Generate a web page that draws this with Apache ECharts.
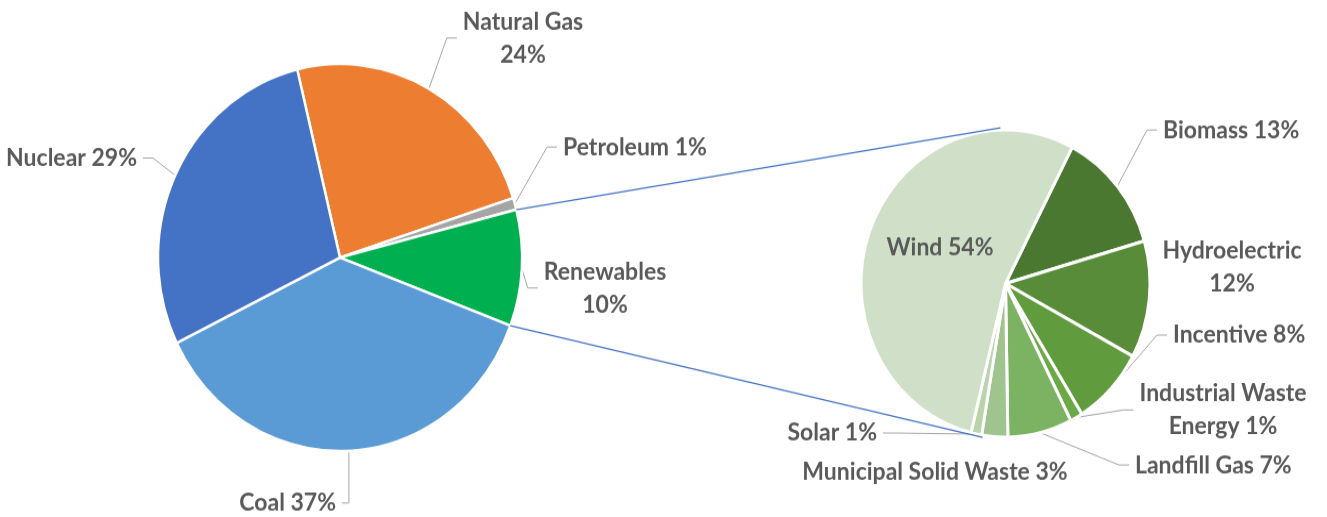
<!DOCTYPE html>
<html>
<head>
<meta charset="utf-8">
<script src="https://cdn.jsdelivr.net/npm/echarts@6/dist/echarts.min.js"></script>
<style>
html, body { margin: 0; padding: 0; background: #ffffff; overflow: hidden; }
#wrap { width: 1327px; height: 517px; overflow: hidden; }
#chart { width: 1327px; height: 486px; transform: scaleY(1.0638); transform-origin: 0 0; }
</style>
</head>
<body>
<div id="wrap"><div id="chart"></div></div>
<script>
// ---- data ----
const mainCategories = ['Natural Gas', 'Petroleum', 'Renewables', 'Coal', 'Nuclear'];
const mainValues = [23.8, 1.0, 9.7, 37.0, 28.5];
const mainColors = ['#ED7D31', '#A5A5A5', '#00B050', '#5B9BD5', '#4472C4'];
const expandedCategory = 'Renewables';

const subCategories = ['Biomass', 'Hydroelectric', 'Incentive', 'Industrial Waste Energy', 'Landfill Gas', 'Municipal Solid Waste', 'Solar', 'Wind'];
const subValues = [12.9, 12.3, 8.3, 1.4, 7.2, 2.9, 1.2, 53.8];
const subColors = ['#4B7830', '#588C38', '#609C3E', '#6BA846', '#7CB363', '#A0C48E', '#B9D3AA', '#D0E0C8'];

// ---- layout / style ----
const FONT = 'Lato';
const TEXT_COLOR = '#595959';
const FONT_SIZE = 23;
const LINE_H = 31;
const PAD = 6;
const mainPie = { cx: 340, cy: 242.1, r: 182, start: 103.6 };
const subPie = { cx: 1005.5, cy: 266.5, r: 144.5, start: 62.5 };
// words after which a label wraps
const breakAfterWord = { 'Natural Gas': 2, 'Renewables': 1, 'Hydroelectric': 1, 'Industrial Waste Energy': 2 };
// label anchors [x, y, align]
const labelPos = {
  'Natural Gas': [523, 35.7, 'center'],
  'Petroleum': [563, 138.2, 'left'],
  'Renewables': [605, 270.7, 'center'],
  'Coal': [336, 472.8, 'right'],
  'Nuclear': [137, 148.5, 'right'],
  'Biomass': [1163, 122.2, 'left'],
  'Hydroelectric': [1232, 251, 'center'],
  'Incentive': [1173, 315, 'left'],
  'Industrial Waste Energy': [1223, 385.4, 'center'],
  'Landfill Gas': [1135, 437.1, 'left'],
  'Municipal Solid Waste': [935, 443.7, 'center'],
  'Solar': [877, 407, 'right'],
  'Wind': [940, 232.2, 'center']
};
const noLeader = ['Hydroelectric', 'Municipal Solid Waste', 'Wind'];

function labelText(name, value) {
  const words = (name + ' ' + Math.round(value) + '%').split(' ');
  const b = breakAfterWord[name];
  if (!b) return words.join(' ');
  return words.slice(0, b).join(' ') + '\n' + words.slice(b).join(' ');
}

function makeData(cats, vals, cols) {
  return cats.map((c, i) => ({
    name: c,
    value: vals[i],
    itemStyle: { color: cols[i] },
    labelLine: { show: noLeader.indexOf(c) < 0 }
  }));
}

const seriesCats = [mainCategories, subCategories];

function layoutFn(params) {
  const name = seriesCats[params.seriesIndex][params.dataIndex];
  const p = labelPos[name];
  if (!p) return {};
  let x = p[0];
  if (p[2] === 'left') x -= PAD;
  if (p[2] === 'right') x += PAD;
  return { x: x, y: p[1], align: p[2], verticalAlign: 'middle' };
}

const labelStyle = {
  show: true,
  position: 'outside',
  color: TEXT_COLOR,
  fontFamily: FONT,
  fontWeight: 'bold',
  fontSize: FONT_SIZE,
  lineHeight: LINE_H,
  padding: [0, PAD],
  formatter: p => labelText(p.name, p.value)
};
const lineStyle = { show: true, length: 10, length2: 10, lineStyle: { color: '#A6A6A6', width: 1 } };

// connector lines, computed from the data and pie geometry
function pt(pie, degEchart, rr) {
  const a = degEchart * Math.PI / 180;
  return [pie.cx + rr * Math.cos(a), pie.cy - rr * Math.sin(a)];
}
const mainTotal = mainValues.reduce((a, b) => a + b, 0);
const ei = mainCategories.indexOf(expandedCategory);
const before = mainValues.slice(0, ei).reduce((a, b) => a + b, 0);
const aStart = mainPie.start - before / mainTotal * 360;
const aEnd = mainPie.start - (before + mainValues[ei]) / mainTotal * 360;
const p1 = pt(mainPie, aStart, mainPie.r);
const p2 = pt(mainPie, aEnd, mainPie.r);
const q1 = pt(subPie, 92, subPie.r + 2);
const q2 = pt(subPie, -99, subPie.r + 2);

const chart = echarts.init(document.getElementById('chart'));
chart.setOption({
  animation: false,
  backgroundColor: '#ffffff',
  graphic: [
    { type: 'line', z: 100, shape: { x1: p1[0], y1: p1[1], x2: q1[0], y2: q1[1] }, style: { stroke: '#4472C4', lineWidth: 1.2 } },
    { type: 'line', z: 100, shape: { x1: p2[0], y1: p2[1], x2: q2[0], y2: q2[1] }, style: { stroke: '#4472C4', lineWidth: 1.2 } }
  ],
  series: [
    {
      type: 'pie',
      center: [mainPie.cx, mainPie.cy],
      radius: mainPie.r,
      startAngle: mainPie.start,
      clockwise: true,
      avoidLabelOverlap: false,
      silent: true,
      itemStyle: { borderColor: '#ffffff', borderWidth: 2.5 },
      label: labelStyle,
      labelLine: lineStyle,
      labelLayout: layoutFn,
      data: makeData(mainCategories, mainValues, mainColors)
    },
    {
      type: 'pie',
      center: [subPie.cx, subPie.cy],
      radius: subPie.r,
      startAngle: subPie.start,
      clockwise: true,
      avoidLabelOverlap: false,
      silent: true,
      itemStyle: { borderColor: '#ffffff', borderWidth: 3 },
      label: labelStyle,
      labelLine: lineStyle,
      labelLayout: layoutFn,
      data: makeData(subCategories, subValues, subColors)
    }
  ]
});
</script>
</body>
</html>
